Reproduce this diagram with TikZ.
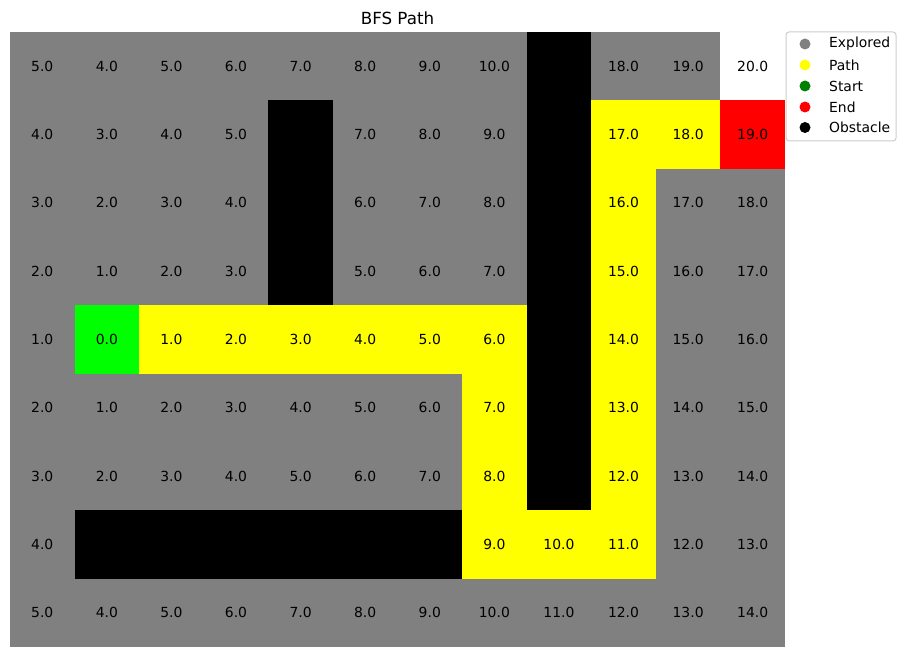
\documentclass[tikz,border=0pt]{standalone}
\usepackage{fontspec}
\setmainfont{DejaVu Sans}
\definecolor{colE}{HTML}{808080}
\definecolor{colP}{HTML}{FFFF00}
\definecolor{colS}{HTML}{00FF00}
\definecolor{colR}{HTML}{FF0000}
\definecolor{colO}{HTML}{000000}
\definecolor{colW}{HTML}{FFFFFF}
\definecolor{legS}{HTML}{008000}
\definecolor{legframe}{HTML}{CCCCCC}
\def\oo{O}
\begin{document}
\begin{tikzpicture}[x=1pt,y=-1pt,
  celltext/.style={font=\fontsize{13.9}{16}\selectfont, text=black, inner sep=0pt},
  legtext/.style={font=\fontsize{13.9}{16}\selectfont, anchor=west, inner sep=0pt},
  legdot/.style={circle, minimum size=11pt, inner sep=0pt, draw=none}]
\useasboundingbox (0,0) rectangle (906,658);
\def\cw{64.583}
\def\ch{68.333}
\foreach \row [count=\j from 0] in {
{5/E,4/E,5/E,6/E,7/E,8/E,9/E,10/E,x/O,18/E,19/E,20/W},
{4/E,3/E,4/E,5/E,x/O,7/E,8/E,9/E,x/O,17/P,18/P,19/R},
{3/E,2/E,3/E,4/E,x/O,6/E,7/E,8/E,x/O,16/P,17/E,18/E},
{2/E,1/E,2/E,3/E,x/O,5/E,6/E,7/E,x/O,15/P,16/E,17/E},
{1/E,0/S,1/P,2/P,3/P,4/P,5/P,6/P,x/O,14/P,15/E,16/E},
{2/E,1/E,2/E,3/E,4/E,5/E,6/E,7/P,x/O,13/P,14/E,15/E},
{3/E,2/E,3/E,4/E,5/E,6/E,7/E,8/P,x/O,12/P,13/E,14/E},
{4/E,x/O,x/O,x/O,x/O,x/O,x/O,9/P,10/P,11/P,12/E,13/E},
{5/E,4/E,5/E,6/E,7/E,8/E,9/E,10/E,11/E,12/E,13/E,14/E}} {
  \foreach \v/\c [count=\i from 0] in \row {
    \fill[col\c] ({10+\i*\cw},{32+\j*\ch}) rectangle ++(\cw+0.3,\ch+0.3);
    \ifx\c\oo\else
      \node[celltext] (cell-\j-\i) at ({10+(\i+0.5)*\cw},{32+(\j+0.5)*\ch}) {\v.0};
    \fi
  }
}
\node[font=\fontsize{16.7}{20}\selectfont, inner sep=0pt] (title) at (397.5,18) {BFS Path};
% legend
\draw[legframe, fill=white, rounded corners=3pt, line width=1pt] (786,32) rectangle (896,141);
\node[legdot, fill=colE] (ld1) at (805,44) {};
\node[legdot, fill=colP] (ld2) at (805,65) {};
\node[legdot, fill=legS] (ld3) at (805,86) {};
\node[legdot, fill=colR] (ld4) at (805,107) {};
\node[legdot, fill=colO] (ld5) at (805,127.5) {};
\node[legtext] (lt1) at (829,44) {Explored};
\node[legtext] (lt2) at (829,65) {Path};
\node[legtext] (lt3) at (829,86) {Start};
\node[legtext] (lt4) at (829,107) {End};
\node[legtext] (lt5) at (829,127.5) {Obstacle};
\end{tikzpicture}
\end{document}
